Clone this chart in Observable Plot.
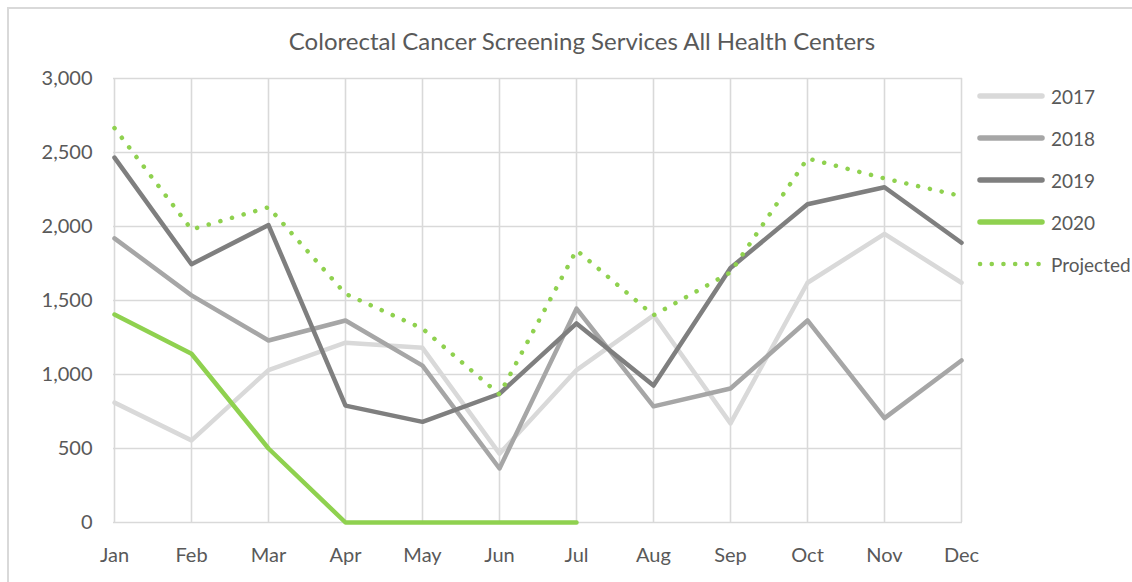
<!DOCTYPE html>
<html>
<head>
<meta charset="utf-8">
<script src="https://cdn.jsdelivr.net/npm/d3@7"></script>
<script src="https://cdn.jsdelivr.net/npm/@observablehq/plot@0.6"></script>
<style>
  body { margin: 0; background: #fff; font-family: Lato, "Open Sans", sans-serif; }
  #wrap { position: relative; width: 1132px; height: 582px; overflow: hidden; background: #fff; }
  #frame { position: absolute; left: 7px; top: 7px; right: -5px; bottom: -5px;
           border-left: 2px solid #d9d9d9; border-top: 2px solid #d9d9d9; pointer-events: none; }
  #title { position: relative; height: 60px; box-sizing: border-box; padding-top: 26px;
           padding-left: 32px; text-align: center; font-size: 24px; color: #595959; line-height: 30px; }
  #chart { position: relative; }
  #legend { position: absolute; left: 977px; top: 75px; }
  .row { display: flex; align-items: center; height: 42px; }
  .row span { font-size: 19px; color: #595959; margin-left: 6px; }
</style>
</head>
<body>
<div id="wrap">
  <div id="frame"></div>
  <div id="title">Colorectal Cancer Screening Services All Health Centers</div>
  <div id="chart"></div>
  <div id="legend"></div>
</div>
<script>
const months = ["Jan","Feb","Mar","Apr","May","Jun","Jul","Aug","Sep","Oct","Nov","Dec"];
const yTicks = [0, 500, 1000, 1500, 2000, 2500, 3000];
const seriesNames = ["2017", "2018", "2019", "2020", "Projected"];
const seriesColors = ["#d9d9d9", "#a6a6a6", "#7f7f7f", "#8fd14f", "#8fd14f"];

const v2017 = [810, 555, 1030, 1215, 1180, 465, 1030, 1400, 670, 1620, 1950, 1620];
const v2018 = [1920, 1535, 1230, 1365, 1060, 365, 1445, 785, 905, 1365, 705, 1095];
const v2019 = [2465, 1745, 2010, 790, 680, 870, 1345, 925, 1720, 2150, 2265, 1890];
const v2020 = [1405, 1140, 500, 0, 0, 0, 0, null, null, null, null, null];
const vProjected = [2665, 1980, 2130, 1545, 1310, 865, 1840, 1400, 1690, 2460, 2325, 2205];

const allValues = [v2017, v2018, v2019, v2020, vProjected];
function dataFor(k) {
  return months.map((m, i) => ({month: m, value: allValues[k][i]})).filter(d => d.value != null);
}

const fontStyle = {fontFamily: "Lato, 'Open Sans', sans-serif", fontSize: "20px", color: "#595959", background: "transparent", overflow: "visible"};

const plot = Plot.plot({
  width: 1132,
  height: 522,
  marginTop: 18,
  marginBottom: 60,
  marginLeft: 113,
  marginRight: 170,
  style: fontStyle,
  x: {type: "point", domain: months, padding: 0, label: null},
  y: {domain: [0, 3000], label: null},
  marks: [
    Plot.gridX(months, {stroke: "#d9d9d9", strokeOpacity: 1, strokeWidth: 1.6}),
    Plot.gridY(yTicks, {stroke: "#d9d9d9", strokeOpacity: 1, strokeWidth: 1.6}),
    Plot.axisX(months, {tickSize: 0, tickPadding: 25, fill: "#595959", fontSize: 20}),
    Plot.axisY(yTicks, {tickSize: 0, tickPadding: 21, tickFormat: d3.format(","), fill: "#595959", fontSize: 20}),
    Plot.lineY(dataFor(0), {x: "month", y: "value", stroke: seriesColors[0], strokeWidth: 4.5}),
    Plot.lineY(dataFor(1), {x: "month", y: "value", stroke: seriesColors[1], strokeWidth: 4.5}),
    Plot.lineY(dataFor(2), {x: "month", y: "value", stroke: seriesColors[2], strokeWidth: 4.5}),
    Plot.lineY(dataFor(3), {x: "month", y: "value", stroke: seriesColors[3], strokeWidth: 4.5}),
    Plot.lineY(dataFor(4), {x: "month", y: "value", stroke: seriesColors[4], strokeWidth: 4.5,
      strokeDasharray: "0.1 12", strokeLinecap: "round"})
  ]
});
document.getElementById("chart").appendChild(plot);

const legend = document.getElementById("legend");
seriesNames.forEach((name, k) => {
  const row = document.createElement("div");
  row.className = "row";
  const dotted = name === "Projected";
  row.innerHTML = `<svg width="68" height="10"><line x1="3" y1="5" x2="65" y2="5" stroke="${seriesColors[k]}" stroke-width="${dotted ? 4.5 : 5.5}" stroke-linecap="round" ${dotted ? 'stroke-dasharray="0.1 11.6"' : ''}/></svg><span>${name}</span>`;
  legend.appendChild(row);
});
</script>
</body>
</html>
